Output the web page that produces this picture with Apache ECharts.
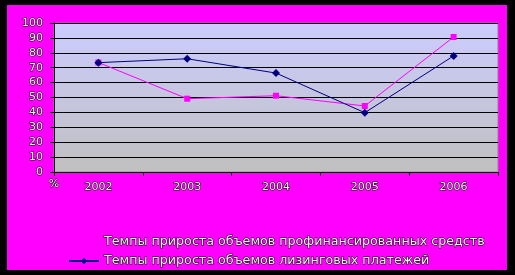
<!DOCTYPE html>
<html>
<head>
<meta charset="utf-8">
<script src="https://cdn.jsdelivr.net/npm/echarts@6/dist/echarts.min.js"></script>
<style>
  html, body { margin: 0; padding: 0; background: #000; }
  #chart { width: 515px; height: 275px; }
</style>
</head>
<body>
<div id="chart"></div>
<script>
// годы
const years = ['2002', '2003', '2004', '2005', '2006'];
// Темпы прироста объемов профинансированных средств
const financed = [73.5, 49.2, 51.2, 44.3, 90.6];
// Темпы прироста объемов лизинговых платежей
const leasing = [73.4, 76.0, 66.4, 39.8, 77.9];

const nameFinanced = 'Темпы прироста объемов профинансированных средств';
const nameLeasing = 'Темпы прироста объемов лизинговых платежей';

const chart = echarts.init(document.getElementById('chart'));

const textStyle = {
  color: '#f4f4f4',
  textBorderColor: '#000',
  textBorderWidth: 1,
  fontFamily: 'DejaVu Sans',
  fontSize: 11
};

const option = {
  backgroundColor: '#000',
  animation: false,
  graphic: [{
    type: 'rect',
    z: -10,
    shape: { x: 7, y: 5, width: 500, height: 265 },
    style: { fill: '#ff00ff' }
  }],
  grid: {
    left: 54,
    top: 23,
    right: 17,
    bottom: 103,
    show: true,
    borderColor: '#888',
    borderWidth: 1,
    backgroundColor: new echarts.graphic.LinearGradient(0, 0, 0, 1, [
      { offset: 0, color: '#ccccff' },
      { offset: 1, color: '#c0c0c0' }
    ])
  },
  legend: {
    orient: 'vertical',
    left: 63,
    top: 230,
    itemWidth: 30,
    itemHeight: 8,
    itemGap: 5,
    textStyle: Object.assign({}, textStyle, { fontSize: 12.7 }),
    data: [nameFinanced, nameLeasing]
  },
  xAxis: {
    type: 'category',
    data: years,
    boundaryGap: true,
    axisLine: { lineStyle: { color: '#000', width: 1 } },
    axisTick: { show: true, length: 4, lineStyle: { color: '#000' } },
    axisLabel: Object.assign({ margin: 10 }, textStyle),
    splitLine: { show: false }
  },
  yAxis: {
    type: 'value',
    min: 0,
    max: 100,
    interval: 10,
    name: '%',
    nameLocation: 'start',
    nameGap: 3,
    nameTextStyle: Object.assign({}, textStyle, { align: 'center', verticalAlign: 'top' }),
    axisLine: { show: true, lineStyle: { color: '#000', width: 1 } },
    axisTick: { show: true, length: 4, lineStyle: { color: '#000' } },
    axisLabel: Object.assign({ margin: 11 }, textStyle),
    splitLine: { show: true, lineStyle: { color: '#000', width: 1 } }
  },
  series: [{
    name: nameFinanced,
    type: 'line',
    data: financed,
    symbol: 'rect',
    symbolSize: 6,
    lineStyle: { color: '#ff00ff', width: 1 },
    itemStyle: { color: '#ff00ff' }
  }, {
    name: nameLeasing,
    type: 'line',
    data: leasing,
    symbol: 'diamond',
    symbolSize: 8,
    lineStyle: { color: '#000080', width: 1 },
    itemStyle: { color: '#000080' }
  }]
};

chart.setOption(option);
</script>
</body>
</html>
